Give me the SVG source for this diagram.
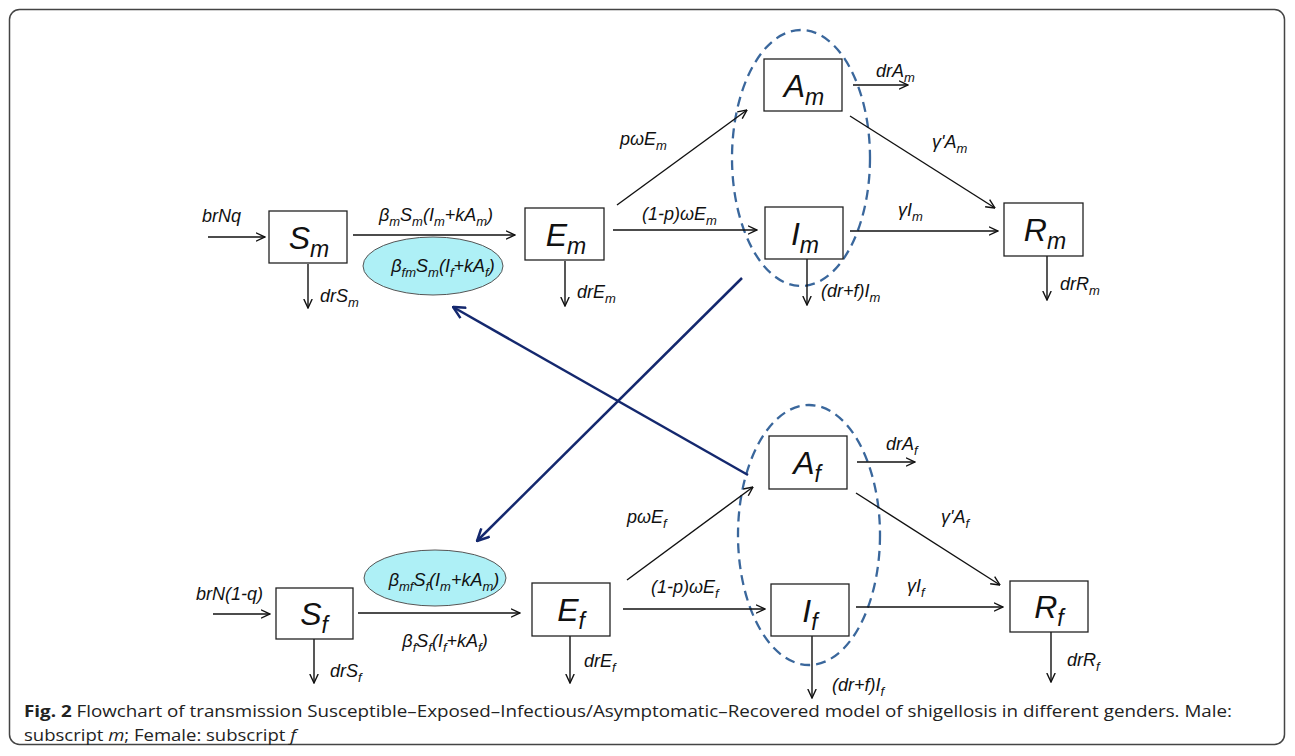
<svg xmlns="http://www.w3.org/2000/svg" width="1295" height="756" viewBox="0 0 1295 756">
<style>
.frame{fill:#fff;stroke:#444;stroke-width:1.5}
.box{fill:#fff;stroke:#222;stroke-width:1.3}
.cy{fill:#aef0f6;stroke:#555;stroke-width:1}
.dash{fill:none;stroke:#3a679c;stroke-width:2.3;stroke-dasharray:10 6}
.ln{fill:none;stroke:#111;stroke-width:1.4}
.nv{fill:none;stroke:#14286e;stroke-width:2.5}
text{font-family:"Liberation Sans",Arial,sans-serif;fill:#111}
.lb{font-style:italic;font-size:18px}
.s{font-size:13px}
.big{font-style:italic;font-size:32px}
.bs{font-size:23px}
.cap{font-family:"Open Sans","Noto Sans","Liberation Sans",sans-serif;font-size:16px;fill:#222}
</style>
<defs>
<marker id="ah" viewBox="0 0 10 10" refX="9.5" refY="5" markerWidth="10" markerHeight="10" markerUnits="userSpaceOnUse" orient="auto">
<path d="M0.5,0.8 L9.5,5 L0.5,9.2" fill="none" stroke="#111" stroke-width="1.4"/>
</marker>
<marker id="nh" viewBox="0 0 14 14" refX="13" refY="7" markerWidth="14" markerHeight="14" markerUnits="userSpaceOnUse" orient="auto">
<path d="M1,1 L13,7 L1,13" fill="none" stroke="#14286e" stroke-width="2.5"/>
</marker>
</defs>
<rect class="frame" x="9.5" y="9.5" width="1275" height="735" rx="10"/>

<g id="groups">
<ellipse class="dash" cx="801" cy="158" rx="69" ry="128"/>
<ellipse class="dash" cx="809" cy="535" rx="71" ry="130"/>
</g>

<g id="connectors">
<line class="ln" x1="208" y1="237" x2="265" y2="237" marker-end="url(#ah)"/>
<line class="ln" x1="353" y1="235" x2="515" y2="235" marker-end="url(#ah)"/>
<line class="ln" x1="308" y1="264" x2="308" y2="308" marker-end="url(#ah)"/>
<line class="ln" x1="565" y1="261" x2="565" y2="306" marker-end="url(#ah)"/>
<line class="ln" x1="617" y1="205" x2="747" y2="110" marker-end="url(#ah)"/>
<line class="ln" x1="613" y1="230" x2="757" y2="230" marker-end="url(#ah)"/>
<line class="ln" x1="853" y1="85" x2="908" y2="85" marker-end="url(#ah)"/>
<line class="ln" x1="850" y1="116" x2="995" y2="208" marker-end="url(#ah)"/>
<line class="ln" x1="850" y1="231" x2="998" y2="231" marker-end="url(#ah)"/>
<line class="ln" x1="807" y1="259" x2="807" y2="305" marker-end="url(#ah)"/>
<line class="ln" x1="1047" y1="256" x2="1047" y2="300" marker-end="url(#ah)"/>

<line class="ln" x1="213" y1="614" x2="270" y2="614" marker-end="url(#ah)"/>
<line class="ln" x1="358" y1="613" x2="520" y2="613" marker-end="url(#ah)"/>
<line class="ln" x1="314" y1="639" x2="314" y2="683" marker-end="url(#ah)"/>
<line class="ln" x1="570" y1="636" x2="570" y2="683" marker-end="url(#ah)"/>
<line class="ln" x1="627" y1="580" x2="753" y2="487" marker-end="url(#ah)"/>
<line class="ln" x1="623" y1="609" x2="765" y2="609" marker-end="url(#ah)"/>
<line class="ln" x1="857" y1="462" x2="915" y2="462" marker-end="url(#ah)"/>
<line class="ln" x1="856" y1="493" x2="1000" y2="585" marker-end="url(#ah)"/>
<line class="ln" x1="856" y1="607" x2="1003" y2="607" marker-end="url(#ah)"/>
<line class="ln" x1="812" y1="636" x2="812" y2="698" marker-end="url(#ah)"/>
<line class="ln" x1="1051" y1="632" x2="1051" y2="682" marker-end="url(#ah)"/>

<line class="nv" x1="742" y1="278" x2="477" y2="541" marker-end="url(#nh)"/>
<line class="nv" x1="748" y1="475" x2="453" y2="307" marker-end="url(#nh)"/>
</g>

<g id="labels">
<text class="lb" x="202" y="222">brNq</text>
<text class="lb" x="436" y="221" text-anchor="middle">β<tspan class="s" dy="5">m</tspan><tspan dy="-5">S</tspan><tspan class="s" dy="5">m</tspan><tspan dy="-5">(I</tspan><tspan class="s" dy="5">m</tspan><tspan dy="-5">+kA</tspan><tspan class="s" dy="5">m</tspan><tspan dy="-5">)</tspan></text>
<text class="lb" x="320" y="302">drS<tspan class="s" dy="5">m</tspan></text>
<text class="lb" x="577" y="298">drE<tspan class="s" dy="5">m</tspan></text>
<text class="lb" x="620" y="145">pωE<tspan class="s" dy="5">m</tspan></text>
<text class="lb" x="642" y="220">(1-p)ωE<tspan class="s" dy="5">m</tspan></text>
<text class="lb" x="876" y="77">drA<tspan class="s" dy="5">m</tspan></text>
<text class="lb" x="932" y="148">γ'A<tspan class="s" dy="5">m</tspan></text>
<text class="lb" x="898" y="216">γI<tspan class="s" dy="5">m</tspan></text>
<text class="lb" x="821" y="297">(dr+f)I<tspan class="s" dy="5">m</tspan></text>
<text class="lb" x="1060" y="290">drR<tspan class="s" dy="5">m</tspan></text>

<text class="lb" x="196" y="600">brN(1-q)</text>
<text class="lb" x="445" y="647" text-anchor="middle">β<tspan class="s" dy="5">f</tspan><tspan dy="-5">S</tspan><tspan class="s" dy="5">f</tspan><tspan dy="-5">(I</tspan><tspan class="s" dy="5">f</tspan><tspan dy="-5">+kA</tspan><tspan class="s" dy="5">f</tspan><tspan dy="-5">)</tspan></text>
<text class="lb" x="330" y="677">drS<tspan class="s" dy="5">f</tspan></text>
<text class="lb" x="584" y="667">drE<tspan class="s" dy="5">f</tspan></text>
<text class="lb" x="627" y="523">pωE<tspan class="s" dy="5">f</tspan></text>
<text class="lb" x="651" y="593">(1-p)ωE<tspan class="s" dy="5">f</tspan></text>
<text class="lb" x="886" y="450">drA<tspan class="s" dy="5">f</tspan></text>
<text class="lb" x="941" y="523">γ'A<tspan class="s" dy="5">f</tspan></text>
<text class="lb" x="907" y="592">γI<tspan class="s" dy="5">f</tspan></text>
<text class="lb" x="832" y="691">(dr+f)I<tspan class="s" dy="5">f</tspan></text>
<text class="lb" x="1067" y="666">drR<tspan class="s" dy="5">f</tspan></text>
</g>

<g id="node-beta-fm">
<ellipse class="cy" cx="433" cy="266" rx="70" ry="29"/>
<text class="lb" x="443" y="272" text-anchor="middle">β<tspan class="s" dy="5">fm</tspan><tspan dy="-5">S</tspan><tspan class="s" dy="5">m</tspan><tspan dy="-5">(I</tspan><tspan class="s" dy="5">f</tspan><tspan dy="-5">+kA</tspan><tspan class="s" dy="5">f</tspan><tspan dy="-5">)</tspan></text>
</g>
<g id="node-beta-mf">
<ellipse class="cy" cx="435" cy="578" rx="71" ry="28"/>
<text class="lb" x="444" y="586" text-anchor="middle">β<tspan class="s" dy="5">mf</tspan><tspan dy="-5">S</tspan><tspan class="s" dy="5">f</tspan><tspan dy="-5">(I</tspan><tspan class="s" dy="5">m</tspan><tspan dy="-5">+kA</tspan><tspan class="s" dy="5">m</tspan><tspan dy="-5">)</tspan></text>
</g>

<g id="node-Sm"><rect class="box" x="269" y="211" width="78" height="52"/><text class="big" x="309" y="249" text-anchor="middle">S<tspan class="bs" dy="8">m</tspan></text></g>
<g id="node-Em"><rect class="box" x="525" y="208" width="79" height="52"/><text class="big" x="566" y="246" text-anchor="middle">E<tspan class="bs" dy="8">m</tspan></text></g>
<g id="node-Am"><rect class="box" x="764" y="59" width="78" height="52"/><text class="big" x="804" y="97" text-anchor="middle">A<tspan class="bs" dy="8">m</tspan></text></g>
<g id="node-Im"><rect class="box" x="765" y="207" width="78" height="52"/><text class="big" x="805" y="245" text-anchor="middle">I<tspan class="bs" dy="8">m</tspan></text></g>
<g id="node-Rm"><rect class="box" x="1004" y="203" width="79" height="53"/><text class="big" x="1045" y="241" text-anchor="middle">R<tspan class="bs" dy="8">m</tspan></text></g>

<g id="node-Sf"><rect class="box" x="276" y="588" width="77" height="51"/><text class="big" x="314" y="625" text-anchor="middle">S<tspan class="bs" dy="8">f</tspan></text></g>
<g id="node-Ef"><rect class="box" x="532" y="583" width="78" height="53"/><text class="big" x="571" y="621" text-anchor="middle">E<tspan class="bs" dy="8">f</tspan></text></g>
<g id="node-Af"><rect class="box" x="769" y="436" width="78" height="53"/><text class="big" x="807" y="474" text-anchor="middle">A<tspan class="bs" dy="8">f</tspan></text></g>
<g id="node-If"><rect class="box" x="771" y="584" width="78" height="52"/><text class="big" x="810" y="622" text-anchor="middle">I<tspan class="bs" dy="8">f</tspan></text></g>
<g id="node-Rf"><rect class="box" x="1010" y="581" width="78" height="51"/><text class="big" x="1049" y="618" text-anchor="middle">R<tspan class="bs" dy="8">f</tspan></text></g>

<g id="caption">
<text class="cap" x="24" y="717" textLength="1208" lengthAdjust="spacingAndGlyphs"><tspan font-weight="bold">Fig. 2</tspan> Flowchart of transmission Susceptible–Exposed–Infectious/Asymptomatic–Recovered model of shigellosis in different genders. Male:</text>
<text class="cap" x="24" y="741" textLength="272" lengthAdjust="spacingAndGlyphs">subscript <tspan font-style="italic">m</tspan>; Female: subscript <tspan font-style="italic">f</tspan></text>
</g>
</svg>
